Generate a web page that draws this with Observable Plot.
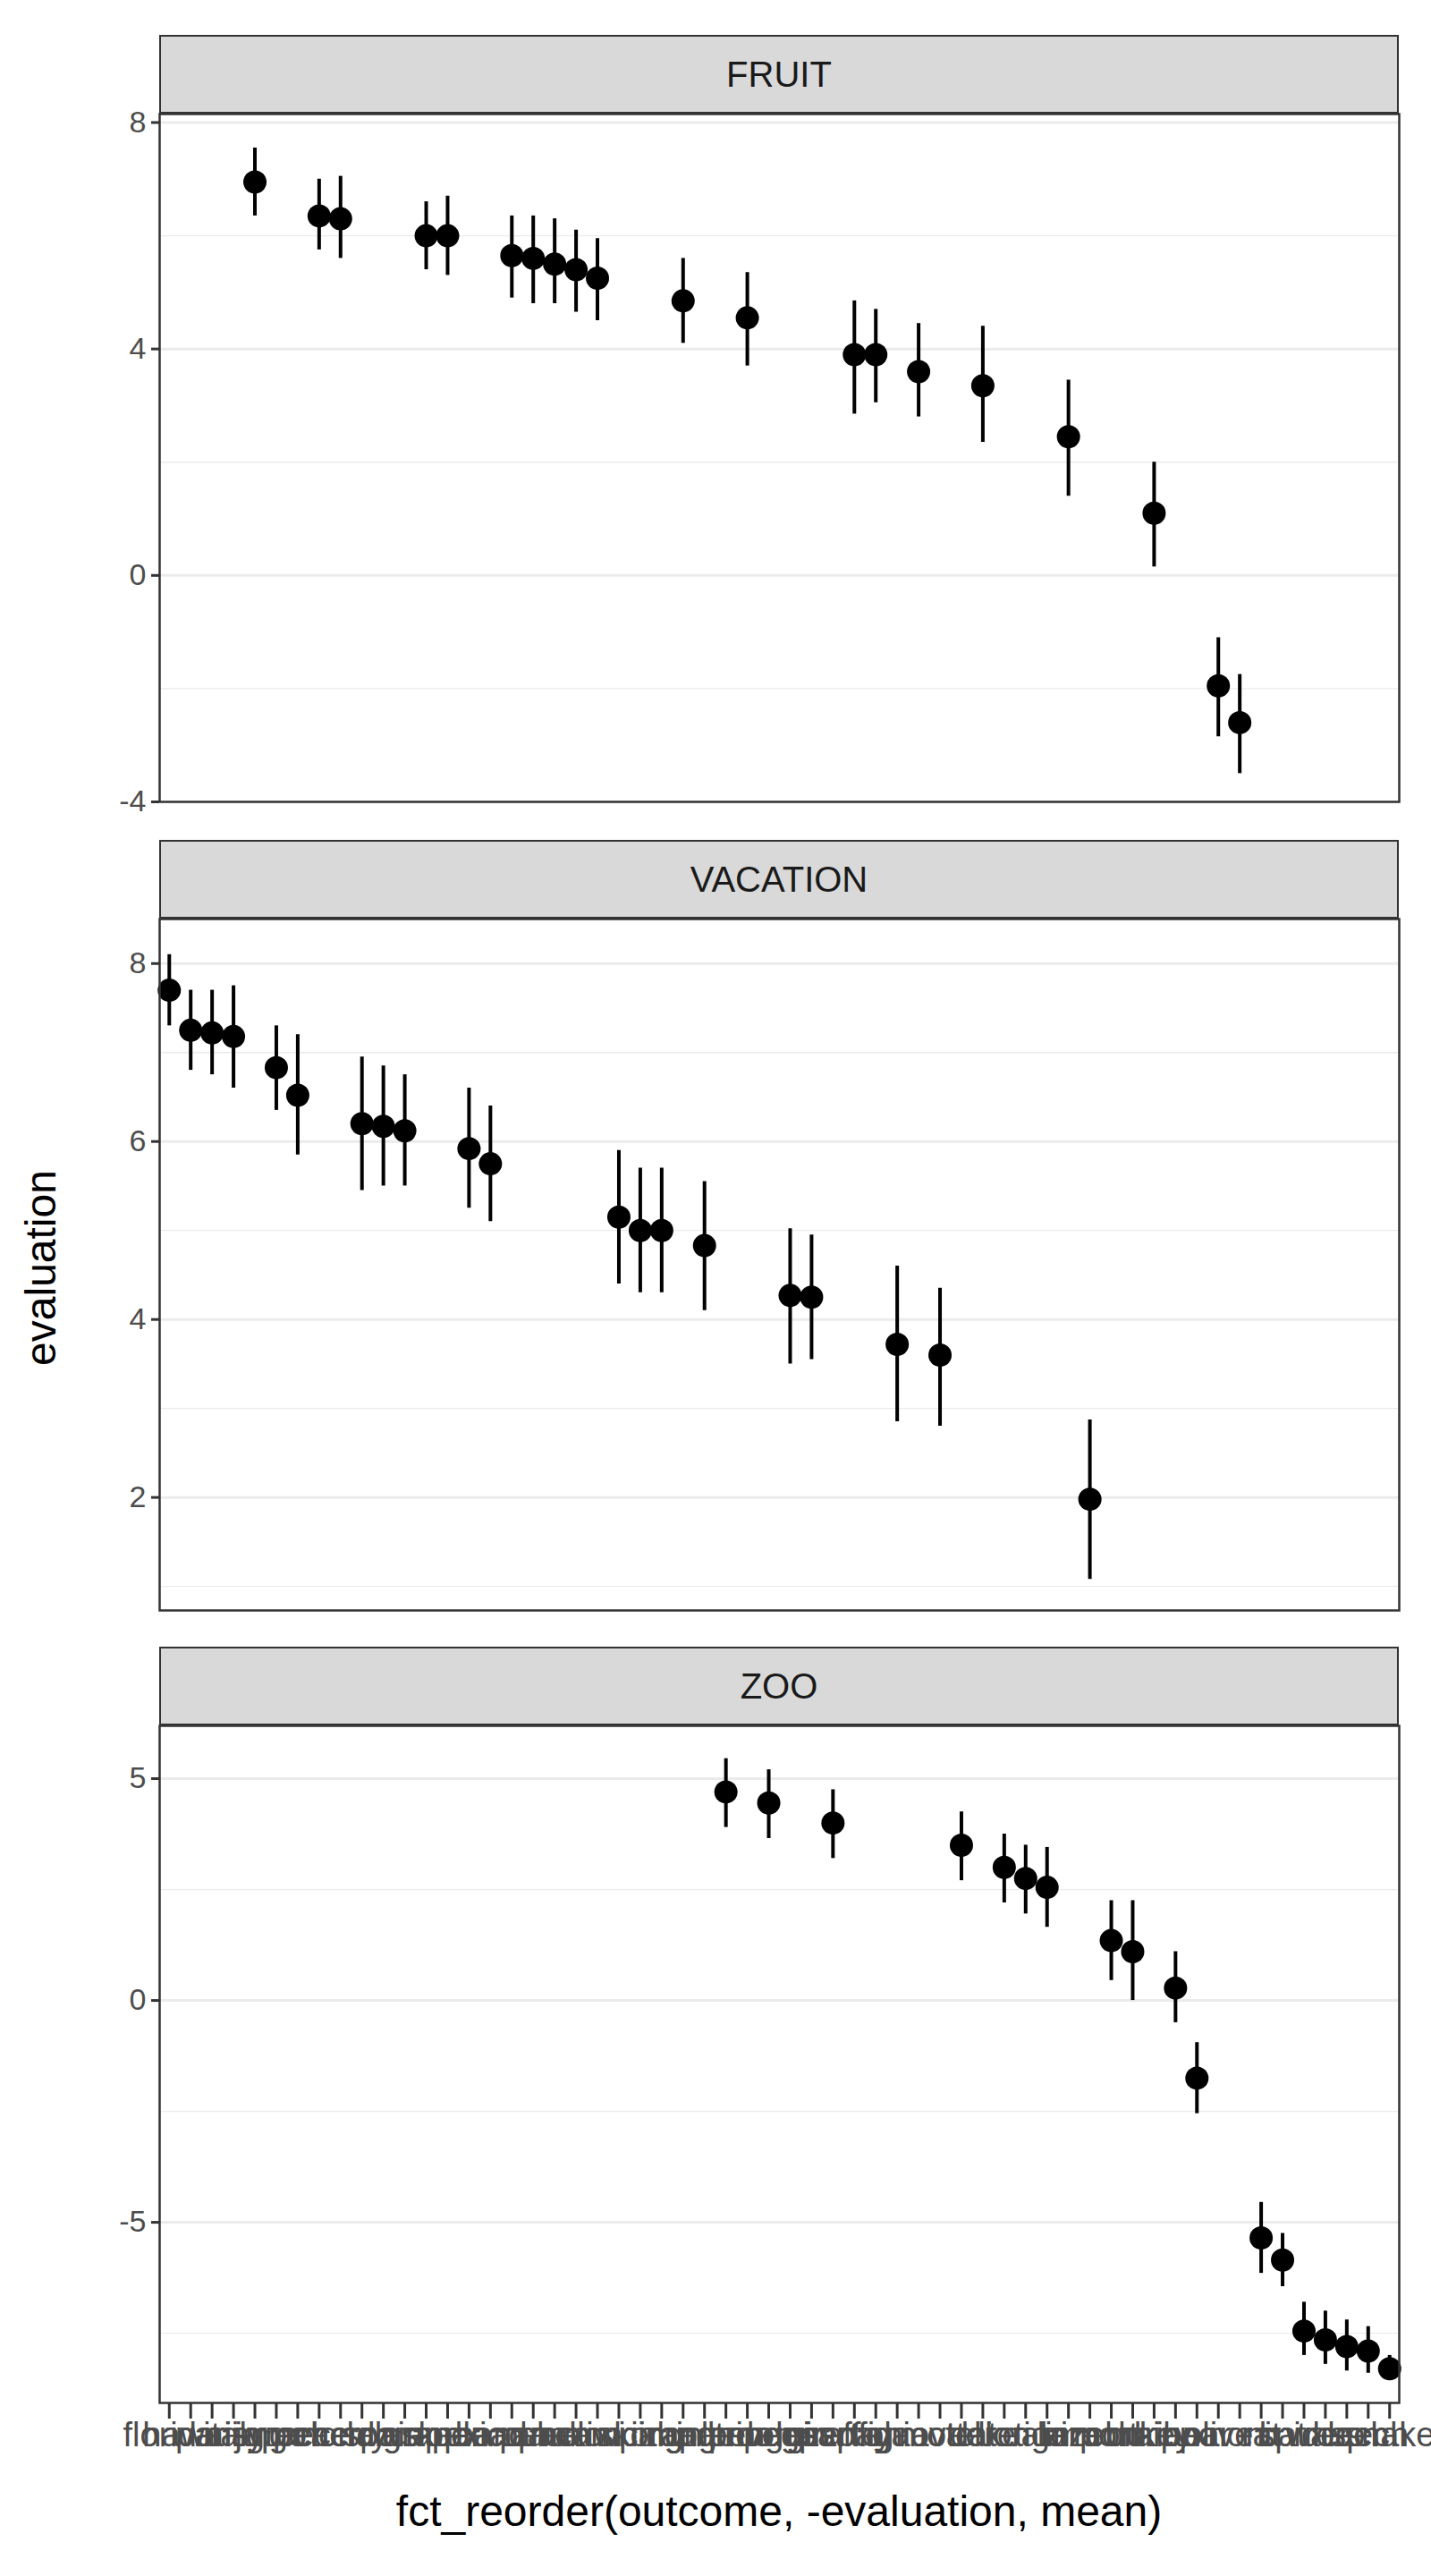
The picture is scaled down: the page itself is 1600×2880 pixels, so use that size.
<!DOCTYPE html>
<html><head><meta charset="utf-8">
<script src="https://cdn.jsdelivr.net/npm/d3@7"></script>
<script src="https://cdn.jsdelivr.net/npm/@observablehq/plot@0.6"></script>
<style>
body{margin:0;background:#fff;font-family:"Liberation Sans",Arial,sans-serif;}
#page{position:relative;width:1600px;height:2880px;}
.strip{position:absolute;left:178px;width:1386px;height:88px;background:#d9d9d9;border:2.5px solid #333;font-size:40px;color:#1a1a1a;display:flex;align-items:center;justify-content:center;box-sizing:border-box;}
.panel{position:absolute;left:0;}
.panel svg{overflow:visible;}
</style></head>
<body><div id="page"></div>
<script>
// outcome categories in overall order (fct_reorder by -mean)
const names = ["florida","hawaii","paris","italy","mango","japan","greece","peach","cherry","london","spain","alaska","grape","apple","mexico","canada","banana","pear","plum","melon","kiwi","camping","skiing","cabin","orange","roadtrip","panda","lemon","penguin","vegas","desert","giraffe","papaya","fig","ohio","guava","motel","otter","date","lion","koala","tiger","lime","airport","zebra","monkey","durian","hippo","bear","olive","noni","rat","bat","spider","wasp","roach","leech","snake"];
const groups = ["v","v","v","v","f","v","v","f","f","v","v","v","f","f","v","v","f","f","f","f","f","v","v","v","f","v","z","f","z","v","v","z","f","f","v","f","v","z","f","z","z","z","f","v","z","z","f","z","z","f","f","z","z","z","z","z","z","z"];
const means = [7.7,7.25,7.22,7.18,6.95,6.83,6.52,6.35,6.3,6.2,6.17,6.12,6.0,6.0,5.92,5.75,5.65,5.6,5.5,5.4,5.25,5.15,5.0,5.0,4.85,4.83,4.7,4.55,4.45,4.27,4.25,4.0,3.9,3.9,3.72,3.6,3.6,3.5,3.35,3.0,2.75,2.55,2.45,1.98,1.35,1.1,1.1,0.28,-1.75,-1.95,-2.6,-5.35,-5.85,-7.45,-7.65,-7.8,-7.9,-8.3];
const lows = [7.3,6.8,6.75,6.6,6.35,6.35,5.85,5.75,5.6,5.45,5.5,5.5,5.4,5.3,5.25,5.1,4.9,4.8,4.8,4.65,4.5,4.4,4.3,4.3,4.1,4.1,3.9,3.7,3.65,3.5,3.55,3.2,2.85,3.05,2.85,2.8,2.8,2.7,2.35,2.2,1.95,1.65,1.4,1.08,0.45,0.0,0.15,-0.5,-2.55,-2.85,-3.5,-6.15,-6.45,-8.0,-8.2,-8.35,-8.4,-8.55];
const highs = [8.1,7.7,7.7,7.75,7.55,7.3,7.2,7.0,7.05,6.95,6.85,6.75,6.6,6.7,6.6,6.4,6.35,6.35,6.3,6.1,5.95,5.9,5.7,5.7,5.6,5.55,5.45,5.35,5.2,5.02,4.95,4.75,4.85,4.7,4.6,4.45,4.35,4.25,4.4,3.75,3.5,3.45,3.45,2.87,2.25,2.25,2.0,1.1,-0.95,-1.1,-1.75,-4.55,-5.25,-6.8,-7.0,-7.2,-7.35,-8.0];

const rows = names.map((n, i) => ({outcome: n, group: groups[i], mean: means[i], lo: lows[i], hi: highs[i]}));

const panels = [
  {key: "f", title: "FRUIT", top: 127, h: 769, dom: [-4, 8.15], major: [-4, 0, 4, 8], minor: [-2, 2, 6]},
  {key: "v", title: "VACATION", top: 1027, h: 773, dom: [0.73, 8.5], major: [2, 4, 6, 8], minor: [1, 3, 5, 7]},
  {key: "z", title: "ZOO", top: 1929, h: 757, dom: [-9.07, 6.19], major: [-5, 0, 5], minor: [-7.5, -2.5, 2.5]}
];

const page = d3.select("#page");
panels.forEach((p, k) => {
  const last = k === panels.length - 1;
  const d = rows.filter(r => r.group === p.key);
  const chart = Plot.plot({
    width: 1600, height: p.h + (last ? 80 : 0),
    marginLeft: 178, marginRight: 36, marginTop: 0, marginBottom: last ? 80 : 0,
    style: {fontFamily: "Liberation Sans, Arial, sans-serif", background: "white", fontSize: "34px", overflow: "visible"},
    x: {type: "point", domain: names, padding: 0.45, axis: null, label: null},
    y: {domain: p.dom, label: null, axis: null},
    marks: [
      Plot.ruleY(p.minor, {stroke: "#ebebeb", strokeWidth: 1.3}),
      Plot.ruleY(p.major, {stroke: "#ebebeb", strokeWidth: 3}),
      Plot.ruleX(d, {x: "outcome", y1: "lo", y2: "hi", stroke: "black", strokeWidth: 4}),
      Plot.dot(d, {x: "outcome", y: "mean", r: 13, fill: "black"}),
      Plot.frame({stroke: "#333", strokeWidth: 2.5}),
      Plot.axisY({ticks: p.major, tickSize: 9, tickPadding: 6, fontSize: 34, color: "#4d4d4d", label: null,
                  tickFormat: v => String(v), stroke: "#333", strokeWidth: 3}),
      ...(last ? [Plot.axisX({tickSize: 18, tickPadding: 4, fontSize: 38, color: "#4d4d4d", label: null, stroke: "#333", strokeWidth: 3})] : [])
    ]
  });
  page.append("div").attr("class", "strip").style("top", (p.top - 88) + "px").text(p.title);
  page.append("div").attr("class", "panel").style("top", p.top + "px").append(() => chart);
});

page.append("div").text("evaluation")
  .style("position", "absolute").style("left", "-80px").style("top", "1390px").style("width", "250px")
  .style("text-align", "center").style("font-size", "48px").style("transform", "rotate(-90deg)");
page.append("div").text("fct_reorder(outcome, -evaluation, mean)")
  .style("position", "absolute").style("left", "178px").style("width", "1386px").style("top", "2780px")
  .style("text-align", "center").style("font-size", "48px");
</script></body></html>
